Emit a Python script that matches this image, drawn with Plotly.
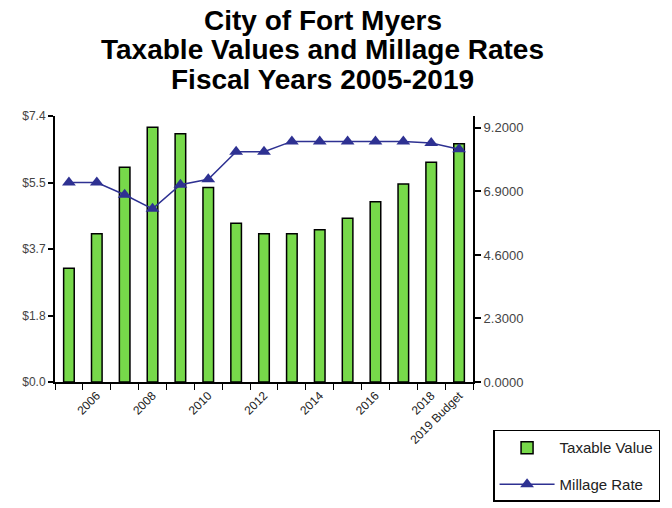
import plotly.graph_objects as go

categories = ["2005", "2006", "2007", "2008", "2009", "2010", "2011", "2012",
              "2013", "2014", "2015", "2016", "2017", "2018", "2019 Budget"]
tick_labels = ["", "2006", "", "2008", "", "2010", "", "2012",
               "", "2014", "", "2016", "", "2018", "2019 Budget"]
taxable_values = [3.15, 4.10, 5.94, 7.05, 6.87, 5.38, 4.39, 4.10,
                  4.10, 4.21, 4.53, 4.99, 5.48, 6.08, 6.59]
millage_rates = [7.22, 7.22, 6.78, 6.27, 7.14, 7.34, 8.34, 8.34,
                 8.71, 8.71, 8.71, 8.71, 8.71, 8.65, 8.43]
left_ticks = [0, 1.84, 3.68, 5.52, 7.36]
left_tick_text = ["$0.0", "$1.8", "$3.7", "$5.5", "$7.4"]
right_ticks = [0, 2.3, 4.6, 6.9, 9.2]
right_tick_text = ["0.0000", "2.3000", "4.6000", "6.9000", "9.2000"]
title_lines = ["City of Fort Myers", "Taxable Values and Millage Rates",
               "Fiscal Years 2005-2019"]

fig = go.Figure()
fig.add_trace(go.Bar(
    x=categories, y=taxable_values, name="Taxable Value", legendgroup="a",
    marker=dict(color="#77D94A", line=dict(color="black", width=1.5)),
    yaxis="y",
))
fig.add_trace(go.Scatter(
    x=categories, y=millage_rates, name="Millage Rate", mode="lines+markers",
    legendgroup="b",
    line=dict(color="#2E3192", width=1.5),
    marker=dict(symbol="triangle-up", size=12, color="#2E3192"),
    yaxis="y2",
))

plot_top, plot_bottom = 116, 382
for i, line in enumerate(title_lines):
    py = 20 + 30 * i
    fig.add_annotation(
        text="<b>" + line + "</b>", xref="paper", yref="paper",
        x=0.64, y=(plot_bottom - py) / (plot_bottom - plot_top),
        xanchor="center", yanchor="middle", showarrow=False,
        font=dict(size=28, color="black", family="Liberation Sans, Arial"),
    )

fig.update_layout(
    width=672, height=508,
    margin=dict(l=55, r=199, t=116, b=126, autoexpand=False),
    paper_bgcolor="white", plot_bgcolor="white",
    font=dict(family="Liberation Sans, Arial", color="#222"),
    bargap=0.62,
    showlegend=True,
    legend=dict(
        x=1.048, xanchor="left", y=-0.18, yanchor="top",
        bordercolor="black", borderwidth=1.5, bgcolor="white",
        font=dict(size=15, color="#222"),
        tracegroupgap=14, itemwidth=55,
    ),
    xaxis=dict(
        type="category", tickvals=categories, ticktext=tick_labels,
        range=[-0.5, len(categories) - 0.5],
        tickangle=-45, tickson="boundaries", ticks="outside", ticklen=6,
        tickcolor="black", showline=True, linecolor="black", linewidth=2,
        tickfont=dict(size=12, color="#222"), showgrid=False,
    ),
    yaxis=dict(
        range=[0, 7.36], tickvals=left_ticks, ticktext=left_tick_text,
        ticks="outside", ticklen=5, tickcolor="black", tickwidth=2,
        showline=True, linecolor="black", linewidth=2, showgrid=False,
        zeroline=False, tickfont=dict(size=12, color="#444"),
    ),
    yaxis2=dict(
        range=[0, 9.63], tickvals=right_ticks, ticktext=right_tick_text,
        overlaying="y", side="right", ticks="outside", ticklen=6,
        tickcolor="black", tickwidth=2, showline=True, linecolor="black",
        linewidth=2, showgrid=False, zeroline=False,
        tickfont=dict(size=13, color="#444"),
    ),
)

fig.write_html("out.html")
